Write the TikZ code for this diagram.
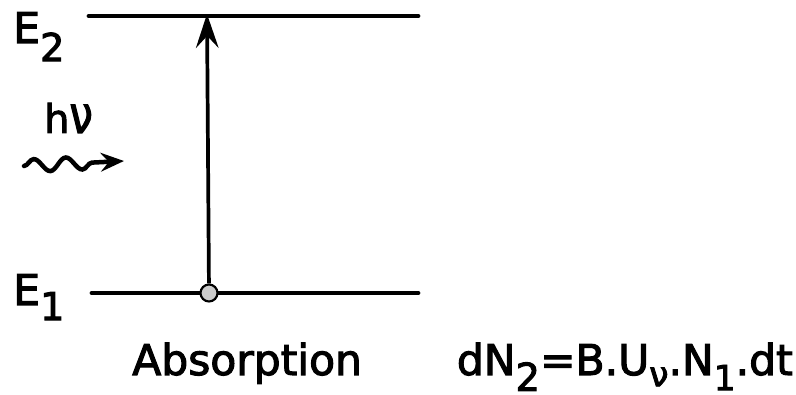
\documentclass[tikz,border=0pt]{standalone}
\usepackage{fontspec}
\setmainfont{DejaVu Sans}
\newfontfamily\lett{DejaVu Sans}[FakeBold=2.5]
\usetikzlibrary{arrows.meta,decorations.pathmorphing}
\newcommand\lowr[3][29]{\raisebox{-#2}{\fontsize{#1}{#1}\selectfont #3}}
\begin{document}
\begin{tikzpicture}[x=0.0265cm,y=-0.0265cm,
  level/.style={line width=3.6pt, line cap=round},
  lbl/.style={inner sep=0pt, font=\lett\fontsize{32}{36}\selectfont}]
\useasboundingbox (0,0) rectangle (796,395);
% energy levels
\coordinate (e2l) at (89,16);
\coordinate (e2r) at (418,16);
\coordinate (e1l) at (92,293);
\coordinate (e1r) at (418,293);
\draw[level] (e2l) -- (e2r);
\draw[level] (e1l) -- (e1r);
% transition
\node[circle, fill=gray!40, draw=black, line width=1.6pt, minimum size=0.45cm, inner sep=0pt] (atom) at (209,293) {};
\coordinate (top) at (207,14);
\draw[line width=2.8pt, -{Stealth[length=0.9cm,width=0.6cm,inset=0.32cm]}] (atom) -- (top);
% labels
\node[lbl, anchor=base west] (E2) at (13,43) {E\lowr{0.48cm}{2}};
\node[lbl, anchor=base west] (E1) at (13,305) {E\lowr{0.4cm}{1}};
\node[lbl, anchor=base west, font=\lett\fontsize{30}{32}\selectfont] (hnu) at (44,133) {h\scalebox{1.05}[1.3]{ν}};
% photon
\coordinate (w1) at (24,166);
\coordinate (w2) at (124,161);
\draw[line width=3.4pt, line cap=round, -{Stealth[length=0.62cm,width=0.5cm,inset=0.22cm]},
  decorate, decoration={snake, amplitude=0.17cm, segment length=0.85cm, post length=0.5cm}] (w1) -- (w2);
% captions
\node[lbl, anchor=base west] (abs) at (132,375) {Absorption};
\node[lbl, anchor=base east] (eq) at (793,375) {dN\lowr{0.42cm}{2}=B.U\lowr[26]{0.3cm}{ν}.N\lowr[26]{0.4cm}{1}.dt};
\end{tikzpicture}
\end{document}
